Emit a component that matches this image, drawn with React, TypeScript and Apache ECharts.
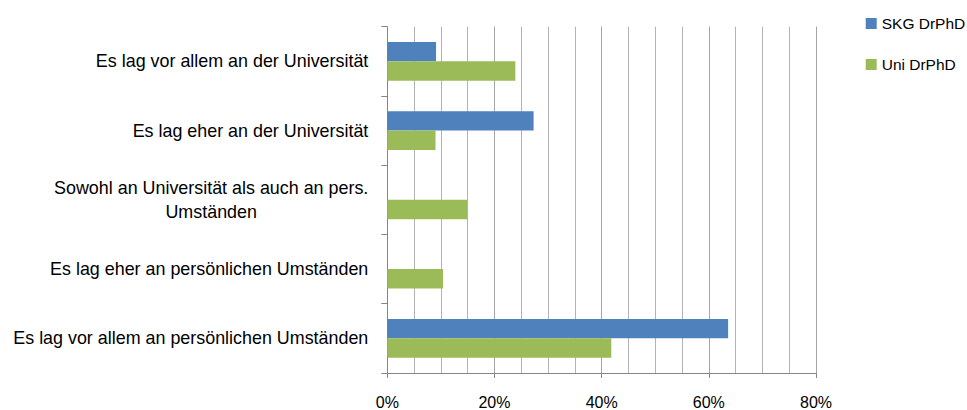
import React, { useEffect, useRef } from "react";
import * as echarts from "echarts";

const categories = [
  "Es lag vor allem an der Universität",
  "Es lag eher an der Universität",
  "Sowohl an Universität als auch an pers.\nUmständen",
  "Es lag eher an persönlichen Umständen",
  "Es lag vor allem an persönlichen Umständen",
];
const seriesNames = ["SKG DrPhD", "Uni DrPhD"];
const skgValues = [9.1, 27.3, 0, 0, 63.6];
const uniValues = [23.9, 9.0, 14.9, 10.4, 41.8];
const colors = ["#4F81BD", "#9BBB59"];

export default function App() {
  const ref = useRef<HTMLDivElement>(null);
  useEffect(() => {
    if (!ref.current) return;
    const chart = echarts.init(ref.current, undefined, { renderer: "svg" });
    const font = "Liberation Sans";
    const gridLine = "#b3b3b3";
    chart.setOption({
      animation: false,
      textStyle: { fontFamily: font },
      grid: { left: 387.3, right: 151, top: 26.7, bottom: 33.3, containLabel: false },
      legend: {
        orient: "vertical",
        left: 860.7,
        top: 8.5,
        itemWidth: 11,
        itemHeight: 11,
        itemGap: 21,
        itemTextGap: 5,
        icon: "rect",
        textStyle: { fontSize: 15.5, lineHeight: 20, color: "#000", fontFamily: font },
        data: seriesNames,
      },
      xAxis: [
        {
          type: "value",
          min: 0,
          max: 80,
          interval: 5,
          axisLine: { show: false },
          axisTick: { show: false },
          axisLabel: { show: false },
          splitLine: { show: true, lineStyle: { color: gridLine, width: 1 } },
        },
        {
          type: "value",
          position: "bottom",
          min: 0,
          max: 80,
          interval: 20,
          axisLine: { show: true, lineStyle: { color: "#868686" } },
          axisTick: { show: true, length: 5, lineStyle: { color: "#868686" } },
          splitLine: { show: true, lineStyle: { color: "#a6a6a6", width: 1 } },
          axisLabel: {
            fontSize: 16,
            color: "#000",
            margin: 21,
            fontFamily: font,
            formatter: (v: number) => v + "%",
          },
        },
      ],
      yAxis: {
        type: "category",
        inverse: true,
        data: categories,
        axisLine: { show: true, lineStyle: { color: "#868686" } },
        axisTick: { show: true, length: 6, lineStyle: { color: "#868686" } },
        axisLabel: {
          fontSize: 17.9,
          color: "#000",
          margin: 19,
          lineHeight: 23.5,
          align: "right",
          fontFamily: font,
          formatter: (v: string) =>
            v
              .split("\n")
              .map((l) => `{c|${l}}`)
              .join("\n"),
          rich: {
            c: {
              align: "center",
              fontSize: 17.9,
              lineHeight: 23.5,
              color: "#000",
              fontFamily: font,
            },
          },
        },
      },
      series: [
        {
          name: seriesNames[0],
          type: "bar",
          xAxisIndex: 1,
          data: skgValues,
          barGap: "0%",
          barCategoryGap: "44%",
          itemStyle: { color: colors[0] },
        },
        {
          name: seriesNames[1],
          type: "bar",
          xAxisIndex: 1,
          data: uniValues,
          barGap: "0%",
          barCategoryGap: "44%",
          itemStyle: { color: colors[1] },
        },
      ],
    });
    return () => chart.dispose();
  }, []);
  return (
    <div
      ref={ref}
      style={{ position: "absolute", left: 0, top: 0, width: 967, height: 410 }}
    />
  );
}
